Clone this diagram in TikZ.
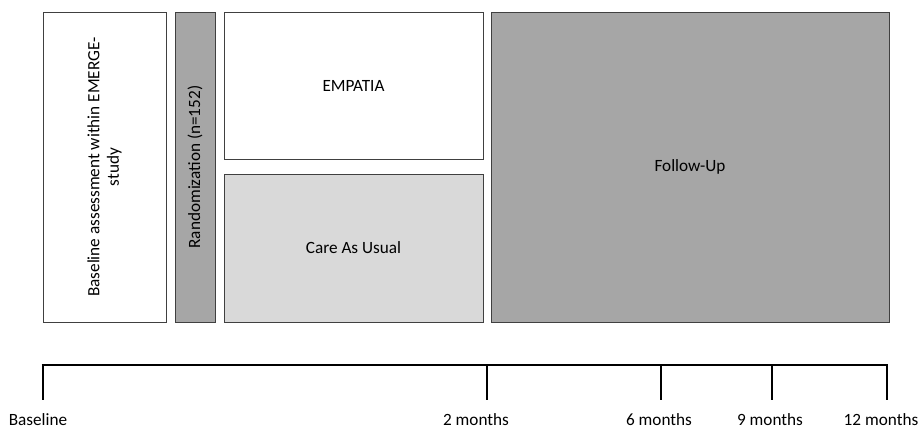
\documentclass[tikz,border=0pt]{standalone}
\usepackage{fontspec}
\setmainfont{Carlito}
\usetikzlibrary{positioning,calc}

\definecolor{edgegray}{HTML}{404040}
\definecolor{midgray}{HTML}{A6A6A6}
\definecolor{lightgray}{HTML}{D9D9D9}

\begin{document}
\begin{tikzpicture}[
  x=1pt, y=-1pt,
  font=\fontsize{17.2}{19.5}\selectfont,
  blk/.style   = {draw=edgegray, line width=1pt, align=center, inner sep=0pt},
  plain/.style = {blk, fill=white},
  dark/.style  = {blk, fill=midgray},
  light/.style = {blk, fill=lightgray},
  tl/.style    = {line width=2.6pt, black},
  lbl/.style   = {inner sep=0pt, anchor=base},
]
\useasboundingbox (0,0) rectangle (919,429);

% =========================== study phases ==================================
\node[plain, rotate=90, minimum width=310, minimum height=123]
  (base) at (104.5,167) {Baseline assessment within EMERGE-\\study};
\node[dark, rotate=90, minimum width=310, minimum height=40]
  (rand) at (195,167) {Randomization (n=152)};
\node[plain, minimum width=259, minimum height=147]
  (emp)  at (353.5,85.5) {EMPATIA};
\node[light, minimum width=259, minimum height=148]
  (cau)  at (353.5,248) {Care As Usual};
\node[dark, minimum width=398, minimum height=310]
  (fu)   at (690,167) {Follow-Up};

% =========================== time line =====================================
\coordinate (t0) at (43,365);
\coordinate (t1) at (487,365);
\coordinate (t2) at (661,365);
\coordinate (t3) at (772,365);
\coordinate (t4) at (887,365);

\foreach \i in {0,...,4}
  \coordinate (b\i) at ($(t\i)+(0,35)$);

\draw[tl] ($(t0)+(-1.3,0)$) -- ($(t4)+(1.3,0)$);
\foreach \i in {0,...,4}
  \draw[tl] (t\i) -- (b\i);

\node[lbl] (l0) at (38,425)  {Baseline};
\node[lbl] (l1) at (476,425) {2 months};
\node[lbl] (l2) at (659,425) {6 months};
\node[lbl] (l3) at (770,425) {9 months};
\node[lbl] (l4) at (881,425) {12 months};

\end{tikzpicture}
\end{document}
